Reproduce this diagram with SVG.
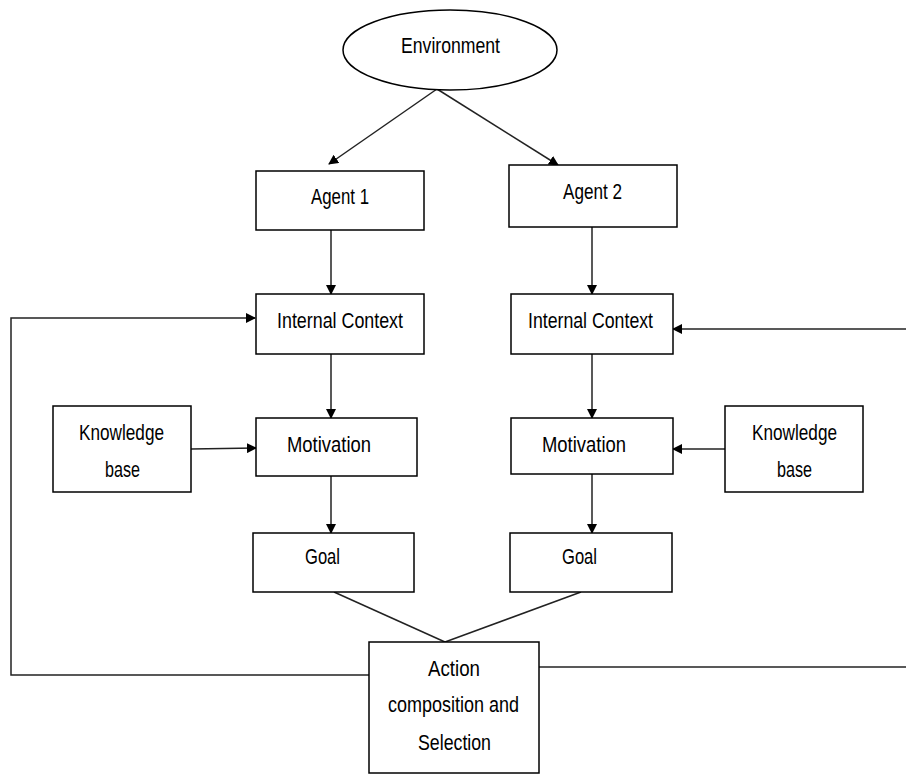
<svg xmlns="http://www.w3.org/2000/svg" width="906" height="776" viewBox="0 0 906 776">
<defs>
<marker id="arr" markerWidth="10" markerHeight="10" refX="9" refY="5" orient="auto" markerUnits="userSpaceOnUse">
<path d="M0,0 L10,5 L0,10 Z" fill="#000"/>
</marker>
<style>
.box{fill:#fff;stroke:#000;stroke-width:1.5}
.t{font-family:"Liberation Sans",Arial,sans-serif;font-size:22px;fill:#000}
.c{fill:none;stroke:#222;stroke-width:1.5}
</style>
</defs>
<rect width="906" height="776" fill="#fff"/>
<g id="connectors">
<line class="c" x1="437" y1="89" x2="329" y2="164" marker-end="url(#arr)"/>
<line class="c" x1="437" y1="89" x2="558" y2="165" marker-end="url(#arr)"/>
<line class="c" x1="331" y1="230" x2="331" y2="294" marker-end="url(#arr)"/>
<line class="c" x1="592" y1="227" x2="592" y2="294" marker-end="url(#arr)"/>
<line class="c" x1="331" y1="354" x2="331" y2="418" marker-end="url(#arr)"/>
<line class="c" x1="592" y1="354" x2="592" y2="418" marker-end="url(#arr)"/>
<line class="c" x1="331" y1="476" x2="331" y2="533" marker-end="url(#arr)"/>
<line class="c" x1="592" y1="474" x2="592" y2="533" marker-end="url(#arr)"/>
<line class="c" x1="191" y1="449" x2="256" y2="448" marker-end="url(#arr)"/>
<line class="c" x1="725" y1="449" x2="673" y2="449" marker-end="url(#arr)"/>
<line class="c" x1="334" y1="592" x2="445" y2="642"/>
<line class="c" x1="581" y1="592" x2="445" y2="642"/>
<polyline class="c" points="369,675 11,675 11,318 255,318" marker-end="url(#arr)"/>
<line class="c" x1="539" y1="667" x2="906" y2="667"/>
<line class="c" x1="906" y1="329" x2="673" y2="329" marker-end="url(#arr)"/>
</g>
<g id="environment">
<ellipse class="box" cx="450" cy="50" rx="107" ry="40"/>
<text class="t" x="401" y="53" textLength="99" lengthAdjust="spacingAndGlyphs">Environment</text>
</g>
<g id="agent1">
<rect class="box" x="256" y="171" width="168" height="59"/>
<text class="t" x="311" y="204" textLength="58" lengthAdjust="spacingAndGlyphs">Agent 1</text>
</g>
<g id="agent2">
<rect class="box" x="509" y="165" width="168" height="62"/>
<text class="t" x="563" y="199" textLength="59" lengthAdjust="spacingAndGlyphs">Agent 2</text>
</g>
<g id="ic1">
<rect class="box" x="256" y="294" width="168" height="60"/>
<text class="t" x="277" y="328" textLength="126" lengthAdjust="spacingAndGlyphs">Internal Context</text>
</g>
<g id="ic2">
<rect class="box" x="511" y="294" width="162" height="60"/>
<text class="t" x="528" y="328" textLength="125" lengthAdjust="spacingAndGlyphs">Internal Context</text>
</g>
<g id="kb1">
<rect class="box" x="53" y="406" width="138" height="86"/>
<text class="t" x="79" y="440" textLength="85" lengthAdjust="spacingAndGlyphs">Knowledge</text>
<text class="t" x="105" y="477" textLength="35" lengthAdjust="spacingAndGlyphs">base</text>
</g>
<g id="mot1">
<rect class="box" x="256" y="418" width="161" height="58"/>
<text class="t" x="287" y="452" textLength="84" lengthAdjust="spacingAndGlyphs">Motivation</text>
</g>
<g id="mot2">
<rect class="box" x="511" y="418" width="162" height="56"/>
<text class="t" x="542" y="452" textLength="84" lengthAdjust="spacingAndGlyphs">Motivation</text>
</g>
<g id="kb2">
<rect class="box" x="725" y="406" width="138" height="86"/>
<text class="t" x="752" y="440" textLength="85" lengthAdjust="spacingAndGlyphs">Knowledge</text>
<text class="t" x="777" y="477" textLength="35" lengthAdjust="spacingAndGlyphs">base</text>
</g>
<g id="goal1">
<rect class="box" x="253" y="533" width="161" height="59"/>
<text class="t" x="305" y="564" textLength="35" lengthAdjust="spacingAndGlyphs">Goal</text>
</g>
<g id="goal2">
<rect class="box" x="510" y="533" width="162" height="59"/>
<text class="t" x="562" y="564" textLength="35" lengthAdjust="spacingAndGlyphs">Goal</text>
</g>
<g id="action">
<rect class="box" x="369" y="642" width="170" height="131"/>
<text class="t" x="428" y="676" textLength="52" lengthAdjust="spacingAndGlyphs">Action</text>
<text class="t" x="388" y="712" textLength="131" lengthAdjust="spacingAndGlyphs">composition and</text>
<text class="t" x="418" y="750" textLength="73" lengthAdjust="spacingAndGlyphs">Selection</text>
</g>
</svg>
